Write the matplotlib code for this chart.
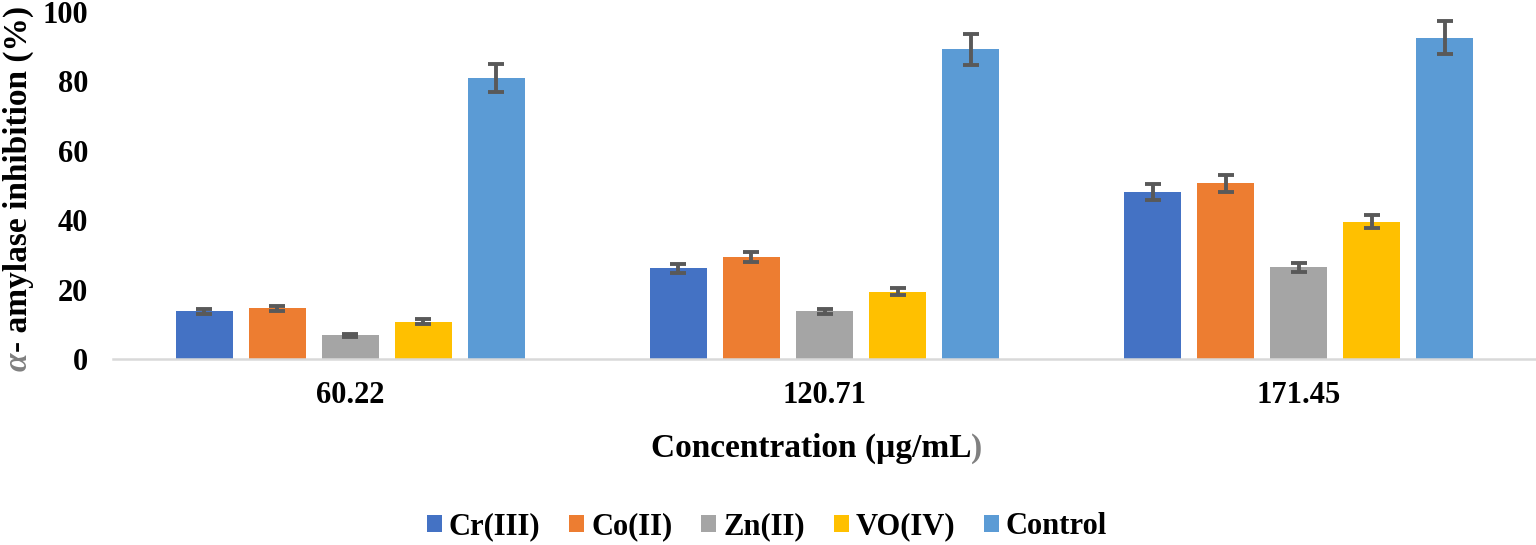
import matplotlib
matplotlib.use('Agg')
import matplotlib.pyplot as plt
import numpy as np

categories = ['60.22', '120.71', '171.45']
series_names = ['Cr(III)', 'Co(II)', 'Zn(II)', 'VO(IV)', 'Control']
cr_vals = [13.7, 26.1, 48.1]
co_vals = [14.6, 29.4, 50.6]
zn_vals = [6.8, 13.7, 26.5]
vo_vals = [10.8, 19.4, 39.6]
control_vals = [80.9, 89.2, 92.6]
cr_err = [0.7, 1.3, 2.4]
co_err = [0.8, 1.5, 2.5]
zn_err = [0.5, 0.7, 1.3]
vo_err = [0.6, 1.0, 1.9]
control_err = [4.0, 4.5, 4.7]
y_ticks = [0, 20, 40, 60, 80, 100]

colors = ['#4472C4', '#ED7D31', '#A5A5A5', '#FFC000', '#5B9BD5']

plt.rcParams['font.family'] = ['Liberation Serif', 'DejaVu Serif']
plt.rcParams['font.weight'] = 'bold'

fig = plt.figure(figsize=(15.36, 5.45), dpi=100)
ax = fig.add_axes([113/1536, 1-359/545, 1-113/1536, (359-12)/545])

x = np.arange(len(categories))
step = 0.154
width = 0.12
all_vals = [cr_vals, co_vals, zn_vals, vo_vals, control_vals]
all_errs = [cr_err, co_err, zn_err, vo_err, control_err]
for i, (vals, errs, name, col) in enumerate(zip(all_vals, all_errs, series_names, colors)):
    ax.bar(x + (i - 2) * step, vals, width, color=col, label=name, yerr=errs,
           error_kw=dict(ecolor='#595959', elinewidth=2.8, capsize=5.5, capthick=2.8),
           zorder=2)

ax.set_ylim(0, 100)
ax.set_xlim(-0.5, 2.5)
ax.set_yticks(y_ticks)
ax.set_xticks(x)
ax.set_xticklabels(categories)
ax.tick_params(axis='both', length=0, labelsize=22)
ax.tick_params(axis='y', pad=18)
ax.tick_params(axis='x', pad=16)
for s in ['top', 'right', 'left']:
    ax.spines[s].set_visible(False)
ax.spines['bottom'].set_color('#d9d9d9')
ax.spines['bottom'].set_linewidth(1.8)

# x label with grey closing parenthesis
xl = fig.text(811/1536, 1-457/545, 'Concentration (µg/mL', ha='center', va='baseline',
              fontsize=24, fontweight='bold', color='black')
ax.annotate(')', xy=(1, 0), xycoords=xl, ha='left', va='bottom',
            fontsize=24, fontweight='bold', color='#808080')

# y label with grey italic alpha
yl = fig.text(18/1536, 1-179/545, '- amylase inhibition (%)', rotation=90,
              ha='center', va='center', fontsize=24, fontweight='bold', color='black')
ax.annotate('α', xy=(0.5, 0), xycoords=yl, rotation=90, ha='center', va='top',
            fontsize=24, fontweight='bold', fontstyle='italic', color='#808080')

fig.legend(loc='center', bbox_to_anchor=(767/1536, 1-527/545), ncol=5, frameon=False,
           fontsize=22, handlelength=0.49, handleheight=0.49, handletextpad=0.22,
           columnspacing=0.95, borderpad=0.1)

fig.savefig('out.png', dpi=100)
